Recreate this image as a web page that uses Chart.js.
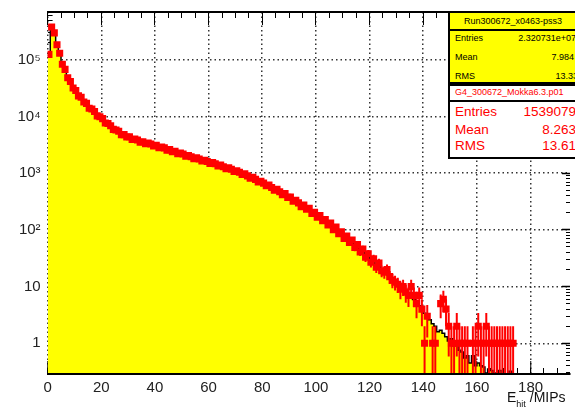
<!DOCTYPE html>
<html>
<head>
<meta charset="utf-8">
<script src="https://cdn.jsdelivr.net/npm/chart.js@4/dist/chart.umd.min.js"></script>
<style>
html,body{margin:0;padding:0;background:#fff;}
#wrap{position:relative;width:575px;height:411px;overflow:hidden;font-family:"Liberation Sans",Arial,sans-serif;}
#c{position:absolute;left:0;top:0;}
.box{position:absolute;border:2px solid #000;box-sizing:border-box;overflow:hidden;}
.abs{position:absolute;white-space:nowrap;}
.sep{position:absolute;left:0;width:200px;height:2px;background:#000;}
</style>
</head>
<body>
<div id="wrap">
<canvas id="c" width="575" height="411"></canvas>

<div class="box" style="left:448px;top:11px;width:140px;height:73px;background:#ffff00;">
  <div class="abs" style="left:0;top:1px;width:126px;text-align:center;font-size:9px;line-height:14px;">Run300672_x0463-pss3</div>
  <div class="sep" style="top:16px;"></div>
  <div class="abs" style="left:5px;top:18px;font-size:9px;line-height:14px;">Entries</div>
  <div class="abs" style="left:0;top:18px;width:126px;text-align:right;font-size:9px;line-height:14px;">2.320731e+07</div>
  <div class="abs" style="left:5px;top:37px;font-size:9px;line-height:14px;">Mean</div>
  <div class="abs" style="left:0;top:37px;width:124px;text-align:right;font-size:9px;line-height:14px;">7.984</div>
  <div class="abs" style="left:5px;top:56px;font-size:9px;line-height:14px;">RMS</div>
  <div class="abs" style="left:0;top:56px;width:128px;text-align:right;font-size:9px;line-height:14px;">13.33</div>
</div>

<div class="box" style="left:448px;top:84px;width:140px;height:75px;background:#ffffff;color:#ff0000;">
  <div class="abs" style="left:5px;top:-1px;font-size:9px;line-height:14px;">G4_300672_Mokka6.3.p01</div>
  <div class="sep" style="top:14px;"></div>
  <div class="abs" style="left:5px;top:18px;font-size:13.5px;line-height:16px;">Entries</div>
  <div class="abs" style="left:0;top:18px;width:126px;text-align:right;font-size:13.5px;line-height:16px;">1539079</div>
  <div class="abs" style="left:5px;top:36px;font-size:13.5px;line-height:16px;">Mean</div>
  <div class="abs" style="left:0;top:36px;width:126px;text-align:right;font-size:13.5px;line-height:16px;">8.263</div>
  <div class="abs" style="left:5px;top:52px;font-size:13.5px;line-height:16px;">RMS</div>
  <div class="abs" style="left:0;top:52px;width:126px;text-align:right;font-size:13.5px;line-height:16px;">13.61</div>
</div>

<div class="abs" style="left:507px;top:389px;font-size:14px;line-height:16px;color:#111;">E<span style="font-size:9px;position:relative;top:5px;">hit</span> /MIPs</div>
</div>

<script>
// ---- data ----
const binStart = 0;
const binWidth = 1;

// Run300672 data histogram (yellow, normalised), one value per bin starting at binStart
const dataCounts = [
  120000, 390000, 290000, 190000, 125000, 87000, 65000, 50000, 40000, 33000,
  27500, 24000, 21000, 18500, 16400, 14600, 13100, 11800, 10700, 9700,
  8790, 7980, 7280, 6670, 6140, 5680, 5270, 4930, 4650, 4420,
  4220, 4050, 3880, 3730, 3600, 3490, 3390, 3290, 3200, 3090,
  2990, 2880, 2790, 2690, 2600, 2510, 2430, 2340, 2270, 2190,
  2110, 2050, 1980, 1920, 1860, 1800, 1740, 1690, 1630, 1580,
  1530, 1480, 1430, 1380, 1330, 1290, 1240, 1190, 1150, 1100,
  1060, 1020, 973, 929, 887, 845, 805, 766, 728, 690,
  655, 619, 586, 553, 522, 492, 463, 436, 409, 384,
  360, 337, 315, 294, 274, 255, 238, 221, 205, 190,
  176, 163, 151, 139, 128, 118, 109, 99.8, 91.6, 84,
  76.9, 70.3, 64.3, 58.6, 53.5, 48.6, 44.3, 40.2, 36.5, 33,
  29.9, 27.1, 24.5, 22.1, 20, 17.5, 16.5, 14.2, 13.5, 11.5,
  10.9, 9.4, 8.9, 7.6, 7.2, 6.2, 5.9, 4.9, 4.6, 4.3,
  3.4, 3.1, 2.6, 2.2, 2.0, 1.6, 1.7, 1.5, 1.3, 1.1,
  1.2, 0.9, 1.0, 0.75, 0.7, 0.55, 0.6, 0.45, 0.6, 0.4,
  0.45, 0.4, 0.38, 0.3, 0.35, 0.33, 0.3, 0.25, 0.33, 0.2,
  0.25, 0.2, 0.32, 0.2, 0, 0.32, 0, 0.2, 0, 0.38,
  0, 0, 0, 0.33, 0, 0, 0, 0.32, 0, 0,
  0, 0.32, 0, 0, 0
];

// G4 Mokka MC (red points), one value per bin starting at binStart
const mcCounts = [
  125000, 380000, 300000, 185000, 131000, 84000, 68000, 48500, 41500, 32000,
  28800, 23200, 21900, 18100, 17100, 14000, 13600, 12300, 10300, 9950,
  9200, 7700, 7550, 6900, 5950, 5800, 5500, 4780, 4800, 4350,
  4400, 3950, 4000, 3850, 3520, 3600, 3310, 3420, 3280, 3020,
  3110, 2830, 2900, 2800, 2540, 2610, 2390, 2450, 2220, 2280,
  2180, 1990, 2060, 1960, 1800, 1870, 1790, 1640, 1700, 1610,
  1490, 1550, 1470, 1350, 1390, 1300, 1200, 1250, 1180, 1070,
  1110, 1040, 950, 975, 900, 820, 845, 780, 705, 725,
  670, 600, 620, 560, 500, 520, 470, 420, 440, 375,
  380, 320, 335, 300, 258, 275, 232, 240, 196, 205,
  168, 180, 146, 152, 122, 132, 101, 112, 86, 93,
  71, 78, 60, 66, 49, 55, 41, 46, 33, 38,
  27, 31, 22, 26, 19, 18, 20, 15, 13, 12,
  11, 9, 10, 8, 7, 10, 7, 5, 7, 4,
  1, 3, 0, 1, 1, 0, 5, 6, 4, 2,
  1, 1, 2, 1, 1, 1, 1, 0, 1, 1,
  2, 1, 1, 2, 1, 1, 1, 1, 1, 1,
  1, 1, 1, 1
];

const xRange = [0, 194.7];
const yRange = [0.287, 7.0e5];
const xTickValues = [0, 20, 40, 60, 80, 100, 120, 140, 160, 180];
const xTickLabels = ['0', '20', '40', '60', '80', '100', '120', '140', '160', '180'];
const yTickValues = [1, 10, 100, 1000, 10000, 100000];
const yTickLabels = ['1', '10', '10\u00B2', '10\u00B3', '10\u2074', '10\u2075'];
const yMinorMultipliers = [2, 3, 4, 5, 6, 7, 8, 9];
const yDecades = [0.1, 1, 10, 100, 1000, 10000, 100000];

// ---- build library data ----
const histPoints = dataCounts.map((v, i) => ({x: binStart + i * binWidth, y: v}));
histPoints.push({x: binStart + dataCounts.length * binWidth, y: dataCounts[dataCounts.length - 1]});
const mcPoints = mcCounts.map((v, i) => ({x: binStart + (i + 0.5) * binWidth, y: v > 0 ? v : null}));

const yMinorTicks = [];
yDecades.forEach(d => yMinorMultipliers.forEach(m => {
  const v = d * m;
  if (v > yRange[0] && v < yRange[1]) yMinorTicks.push({value: v});
}));

const errorBars = {
  id: 'errorBars',
  beforeDatasetDraw(chart, args) {
    if (args.index !== 0) return;
    const xs = chart.scales.x, ys = chart.scales.y, a = chart.chartArea, ctx = chart.ctx;
    ctx.save();
    ctx.beginPath();
    ctx.rect(a.left, a.top, a.right - a.left, a.bottom - a.top);
    ctx.clip();
    ctx.strokeStyle = '#ff0000';
    ctx.lineWidth = 2;
    mcCounts.forEach((v, i) => {
      if (!(v > 0)) return;
      const e = Math.sqrt(v);
      const xc = xs.getPixelForValue(binStart + (i + 0.5) * binWidth);
      const xl = xs.getPixelForValue(binStart + i * binWidth);
      const xr = xs.getPixelForValue(binStart + (i + 1) * binWidth);
      const yc = ys.getPixelForValue(v);
      const yt = ys.getPixelForValue(v + e);
      const yb = (v - e) > 0 ? ys.getPixelForValue(v - e) : a.bottom + 2;
      ctx.beginPath();
      ctx.moveTo(xc, yt); ctx.lineTo(xc, yb);
      ctx.moveTo(xl, yc); ctx.lineTo(xr, yc);
      ctx.stroke();
    });
    ctx.restore();
  }
};

const zeroW = s => { s.width = 0; s.paddingTop = 0; s.paddingBottom = 0; s.paddingLeft = 0; s.paddingRight = 0; };
const zeroH = s => { s.height = 0; s.paddingTop = 0; s.paddingBottom = 0; s.paddingLeft = 0; s.paddingRight = 0; };
const tickFont = {family: 'Liberation Sans', size: 15};

Chart.defaults.font.family = 'Liberation Sans';

new Chart(document.getElementById('c'), {
  type: 'line',
  data: {
    datasets: [
      {
        label: 'G4_300672_Mokka6.3.p01',
        data: mcPoints,
        showLine: false,
        pointStyle: 'rect',
        pointRadius: 5,
        pointBackgroundColor: '#ff0000',
        pointBorderColor: '#ff0000',
        pointBorderWidth: 0,
        order: 0
      },
      {
        label: 'Run300672_x0463-pss3',
        data: histPoints,
        stepped: true,
        fill: 'start',
        backgroundColor: '#ffff00',
        borderColor: '#000000',
        borderWidth: 1.5,
        pointRadius: 0,
        tension: 0,
        order: 1
      }
    ]
  },
  options: {
    responsive: false,
    maintainAspectRatio: false,
    devicePixelRatio: 1,
    animation: false,
    events: [],
    layout: {padding: {top: 12, left: 0, right: 0, bottom: 0}},
    plugins: {legend: {display: false}, tooltip: {enabled: false}},
    scales: {
      x: {
        type: 'linear', position: 'bottom', min: xRange[0], max: xRange[1],
        afterBuildTicks: s => { s.ticks = xTickValues.map(v => ({value: v})); },
        afterFit: s => { s.height = 37; s.paddingLeft = 0; s.paddingRight = 0; },
        ticks: {callback: (v, i) => xTickLabels[i], padding: 18, maxRotation: 0, autoSkip: false, font: tickFont, color: '#222'},
        grid: {drawOnChartArea: true, color: '#333', lineWidth: 1.5, tickLength: -13, tickColor: '#000', tickWidth: 1},
        border: {display: true, color: '#000', width: 2, z: 1, dash: [1.5, 3]}
      },
      xMinor: {
        type: 'linear', position: 'bottom', weight: -1, min: xRange[0], max: xRange[1],
        afterFit: zeroH,
        ticks: {display: false, stepSize: 5, includeBounds: false},
        grid: {drawOnChartArea: false, tickLength: -6, tickColor: '#000', tickWidth: 1},
        border: {display: false}
      },
      xTop: {
        type: 'linear', position: 'top', min: xRange[0], max: xRange[1],
        afterBuildTicks: s => { s.ticks = xTickValues.map(v => ({value: v})); },
        afterFit: zeroH,
        ticks: {display: false},
        grid: {drawOnChartArea: false, tickLength: -13, tickColor: '#000', tickWidth: 1},
        border: {display: true, color: '#000', width: 2, z: 1}
      },
      xTopMinor: {
        type: 'linear', position: 'top', weight: -1, min: xRange[0], max: xRange[1],
        afterFit: zeroH,
        ticks: {display: false, stepSize: 5, includeBounds: false},
        grid: {drawOnChartArea: false, tickLength: -6, tickColor: '#000', tickWidth: 1},
        border: {display: false}
      },
      y: {
        type: 'logarithmic', position: 'left', min: yRange[0], max: yRange[1],
        afterBuildTicks: s => { s.ticks = yTickValues.map(v => ({value: v})); },
        afterFit: s => { s.width = 47.6; s.paddingTop = 0; s.paddingBottom = 0; },
        ticks: {callback: (v, i) => yTickLabels[i], padding: 17, autoSkip: false, font: tickFont, color: '#222'},
        grid: {drawOnChartArea: true, color: '#333', lineWidth: 1.5, tickLength: -10, tickColor: '#000', tickWidth: 1},
        border: {display: false, dash: [1.5, 3]}
      },
      yMinor: {
        type: 'logarithmic', position: 'left', weight: -1, min: yRange[0], max: yRange[1],
        afterBuildTicks: s => { s.ticks = yMinorTicks.slice(); },
        afterFit: zeroW,
        ticks: {display: false},
        grid: {drawOnChartArea: false, tickLength: -5, tickColor: '#000', tickWidth: 1},
        border: {display: false}
      },
      yRight: {
        type: 'logarithmic', position: 'right', min: yRange[0], max: yRange[1],
        afterBuildTicks: s => { s.ticks = yTickValues.map(v => ({value: v})); },
        afterFit: zeroW,
        ticks: {display: false},
        grid: {drawOnChartArea: false, tickLength: -8, tickColor: '#000', tickWidth: 1.5},
        border: {display: false}
      },
      yRightMinor: {
        type: 'logarithmic', position: 'right', weight: -1, min: yRange[0], max: yRange[1],
        afterBuildTicks: s => { s.ticks = yMinorTicks.slice(); },
        afterFit: zeroW,
        ticks: {display: false},
        grid: {drawOnChartArea: false, tickLength: -4, tickColor: '#000', tickWidth: 1},
        border: {display: false}
      }
    }
  },
  plugins: [errorBars]
});
</script>
</body>
</html>
